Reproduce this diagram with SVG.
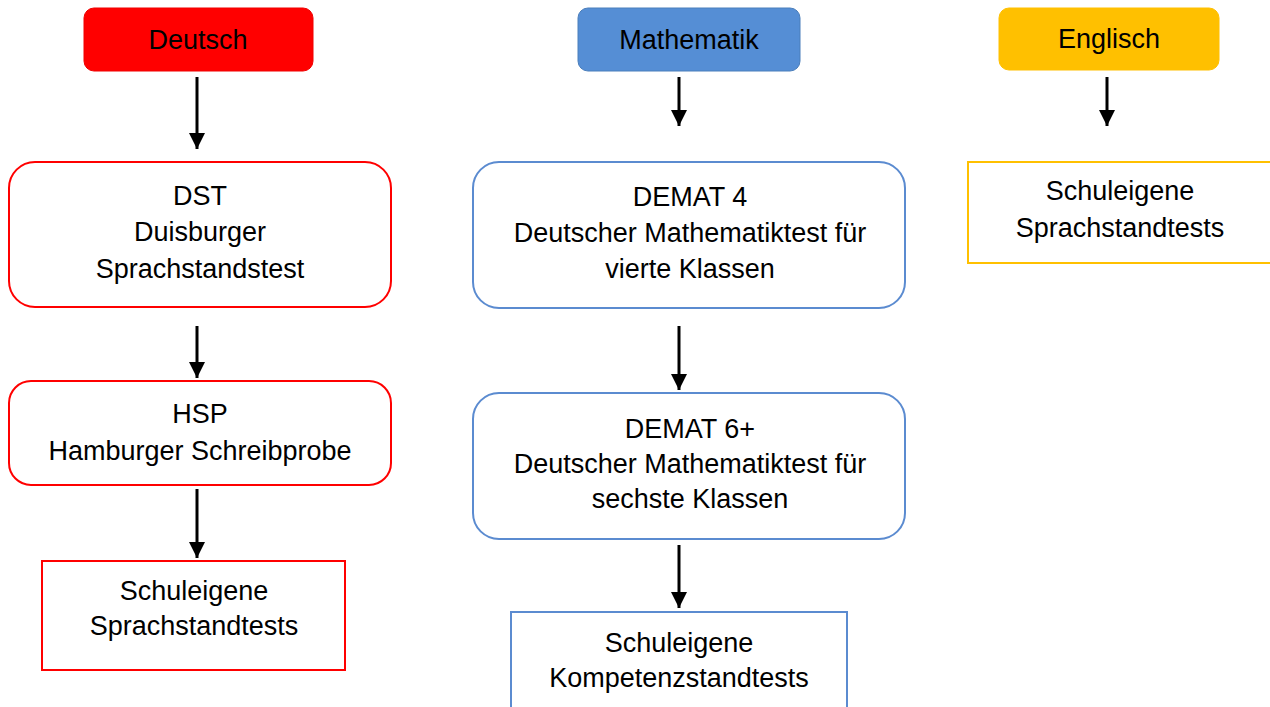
<svg xmlns="http://www.w3.org/2000/svg" width="1270" height="707" viewBox="0 0 1270 707">
<defs>
<style>
text{font-family:"Liberation Sans",Arial,sans-serif;font-size:27px;fill:#000;text-anchor:middle}
.red{fill:#fff;stroke:#FF0000;stroke-width:2}
.blue{fill:#fff;stroke:#5B8BD0;stroke-width:2}
.yel{fill:#fff;stroke:#FFC000;stroke-width:2}
.conn line{stroke:#000;stroke-width:3;marker-end:url(#ah)}
</style>
<marker id="ah" markerUnits="userSpaceOnUse" markerWidth="18" markerHeight="18" refX="16" refY="8" orient="auto">
<path d="M0,0 L16,8 L0,16 Z" fill="#000"/>
</marker>
</defs>
<rect width="1270" height="707" fill="#fff"/>
<g id="connectors" class="conn">
<line x1="197" y1="77" x2="197" y2="149"/>
<line x1="197" y1="326" x2="197" y2="378"/>
<line x1="197" y1="489" x2="197" y2="558"/>
<line x1="679" y1="77" x2="679" y2="126"/>
<line x1="679" y1="326" x2="679" y2="390"/>
<line x1="679" y1="545" x2="679" y2="608"/>
<line x1="1107" y1="77" x2="1107" y2="126"/>
</g>
<g id="deutsch">
<rect x="84" y="8" width="229" height="63" rx="10" fill="#FF0000" stroke="#F00000" stroke-width="1"/>
<text x="198" y="49">Deutsch</text>
</g>
<g id="mathematik">
<rect x="578" y="8" width="222" height="63" rx="10" fill="#558ED5" stroke="#4A7EBB" stroke-width="1"/>
<text x="689" y="49">Mathematik</text>
</g>
<g id="englisch">
<rect x="999" y="8" width="220" height="62" rx="10" fill="#FFC000" stroke="#FFC000" stroke-width="1"/>
<text x="1109" y="48">Englisch</text>
</g>
<g id="dst">
<rect class="red" x="9" y="162" width="382" height="145" rx="26"/>
<text x="200" y="205">DST</text>
<text x="200" y="241">Duisburger</text>
<text x="200" y="278">Sprachstandstest</text>
</g>
<g id="hsp">
<rect class="red" x="9" y="381" width="382" height="104" rx="22"/>
<text x="200" y="423">HSP</text>
<text x="200" y="460">Hamburger Schreibprobe</text>
</g>
<g id="schuleigene-deutsch">
<rect class="red" x="42" y="561" width="303" height="109"/>
<text x="194" y="600">Schuleigene</text>
<text x="194" y="635">Sprachstandtests</text>
</g>
<g id="demat4">
<rect class="blue" x="473" y="162" width="432" height="146" rx="26"/>
<text x="690" y="206">DEMAT 4</text>
<text x="690" y="242">Deutscher Mathematiktest für</text>
<text x="690" y="278">vierte Klassen</text>
</g>
<g id="demat6">
<rect class="blue" x="473" y="393" width="432" height="146" rx="26"/>
<text x="690" y="438">DEMAT 6+</text>
<text x="690" y="473">Deutscher Mathematiktest für</text>
<text x="690" y="508">sechste Klassen</text>
</g>
<g id="schuleigene-mathe">
<rect class="blue" x="511" y="612" width="336" height="110"/>
<text x="679" y="652">Schuleigene</text>
<text x="679" y="687">Kompetenzstandtests</text>
</g>
<g id="schuleigene-englisch">
<rect class="yel" x="968" y="162" width="320" height="101"/>
<text x="1120" y="200">Schuleigene</text>
<text x="1120" y="237">Sprachstandtests</text>
</g>
</svg>
